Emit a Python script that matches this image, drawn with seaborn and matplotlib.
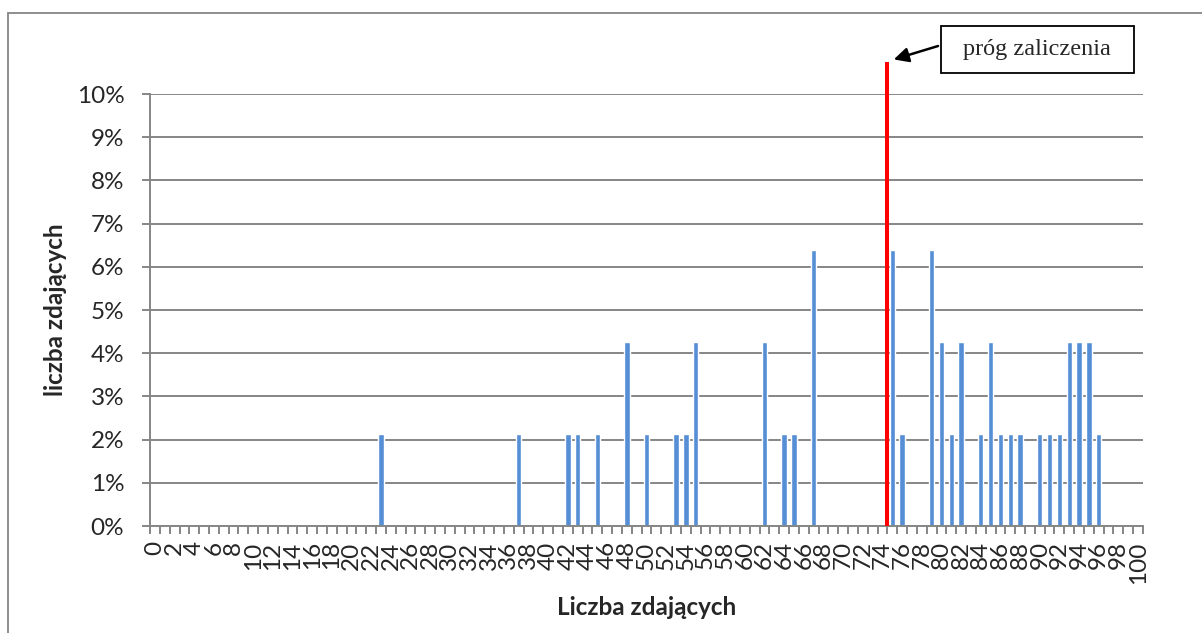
import matplotlib.pyplot as plt
import numpy as np
import pandas as pd
import seaborn as sns
from matplotlib.patches import Rectangle
from matplotlib.ticker import PercentFormatter

sns.set_theme(style="white")
plt.rcParams["font.family"] = ["Lato", "DejaVu Sans"]

# wyniki (liczba punktow) i udzial zdajacych w %
scores = [23, 37, 42, 43, 45, 48, 50, 53, 54, 55, 62, 64, 65, 67, 75, 76,
          79, 80, 81, 82, 84, 85, 86, 87, 88, 90, 91, 92, 93, 94, 95, 96]
shares = [2.13, 2.13, 2.13, 2.13, 2.13, 4.26, 2.13, 2.13, 2.13, 4.26,
          4.26, 2.13, 2.13, 6.38, 6.38, 2.13, 6.38, 4.26, 2.13, 4.26,
          2.13, 4.26, 2.13, 2.13, 2.13, 2.13, 2.13, 2.13, 4.26, 4.26,
          4.26, 2.13]
all_scores = list(range(0, 101))
x_labels = [str(v) for v in range(0, 101, 2)]
y_ticks = [0, 1, 2, 3, 4, 5, 6, 7, 8, 9, 10]

threshold = 74.5        # prog zaliczenia (miedzy 74 a 75)
threshold_top = 10.75
threshold_label = "próg zaliczenia"

df = (
    pd.DataFrame({"wynik": scores, "udzial": shares})
    .set_index("wynik")
    .reindex(all_scores, fill_value=0)
    .reset_index()
)

GRAY = "#868686"

fig = plt.figure(figsize=(12.02, 6.33), dpi=100)
ax = fig.add_axes([0.1248, 0.169, 0.8261, 0.6825])

sns.barplot(
    data=df,
    x="wynik",
    y="udzial",
    order=all_scores,
    color="#558ED5",
    saturation=1,
    width=0.55,
    ax=ax,
)

ax.set_xlim(-0.5, 100.5)
ax.set_ylim(0, 10)

# gridlines
ax.set_yticks(y_ticks)
ax.yaxis.set_major_formatter(PercentFormatter(decimals=0))
ax.yaxis.grid(True, color=GRAY, lw=1.4)
ax.xaxis.grid(False)
ax.set_axisbelow(True)

for side in ["top", "right"]:
    ax.spines[side].set_visible(False)
for side in ["left", "bottom"]:
    ax.spines[side].set_color(GRAY)
    ax.spines[side].set_linewidth(1.4)

# tick marks between categories, labels every second category
ax.set_xticks(np.arange(-0.5, 101, 1))
ax.set_xticklabels([])
ax.set_xticks(np.arange(0, 101, 2), labels=x_labels, minor=True)
ax.tick_params(axis="x", which="major", length=6, width=1.4, color=GRAY,
               bottom=True)
ax.tick_params(axis="x", which="minor", length=0, pad=11, labelsize=17.5,
               rotation=90, bottom=True)
ax.tick_params(axis="y", length=6, width=1.4, color=GRAY, pad=12.5,
               labelsize=17.5, left=True)

ax.set_xlabel("Liczba zdających", fontsize=17.5, fontweight="bold",
              va="center")
ax.xaxis.set_label_coords(0.5, -0.1875)
ax.set_ylabel("liczba zdających", fontsize=17.5, fontweight="bold",
              va="center")
ax.yaxis.set_label_coords(-0.0947, 0.5)

# prog zaliczenia
ax.vlines(threshold, 0, threshold_top, color="red", lw=2.9, zorder=4,
          clip_on=False)

fig.patches.append(Rectangle((0.7826, 0.8842), 0.1608, 0.0752,
                             transform=fig.transFigure, fill=False,
                             edgecolor="black", lw=1.3))
fig.text(0.8627, 0.9218, threshold_label, ha="center", va="center",
         fontsize=17.5, family="Liberation Serif")
ax.annotate(
    "",
    xy=(threshold + 0.65, 10.8),
    xytext=(0.7804, 0.9273),
    textcoords="figure fraction",
    arrowprops=dict(arrowstyle="-|>", color="black", lw=1.8,
                    mutation_scale=22, shrinkA=0, shrinkB=0),
    annotation_clip=False,
)

# ramka wykresu
fig.patches.append(Rectangle((0.00666, -0.2), 1.2, 1.1795,
                             transform=fig.transFigure, fill=False,
                             edgecolor=GRAY, lw=1.3))

fig.savefig("out.png", dpi=100)
